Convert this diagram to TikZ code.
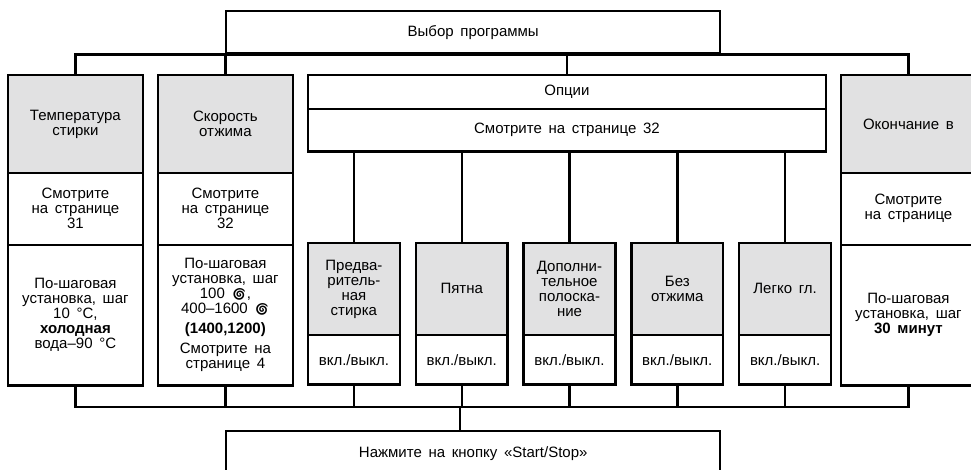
\documentclass[tikz,border=0pt]{standalone}
\usepackage{fontspec}
\setmainfont[WordSpace=1.6]{Liberation Sans}
\newfontfamily\spinfont{Noto Emoji}
\usetikzlibrary{positioning}
\definecolor{headgray}{RGB}{225,225,226}
\newcommand{\spin}{{\spinfont\fontsize{12}{12}\selectfont 🌀}}

\tikzset{
    cell/.style={draw, line width=0.8pt, anchor=north west, inner sep=0pt, align=center, font=\fontsize{15}{15}\selectfont},
    head/.style={cell, fill=headgray},
    frame/.style={line width=2.4pt},
    wire/.style={line width=2.4pt},
}

\begin{document}
\begin{tikzpicture}[x=1pt, y=-1pt]
                \clip (0,0) rectangle (971,469);

                \node[cell, frame, minimum width=494pt, minimum height=42pt] (prog) at (225,10) {Выбор программы};

                % temperature
                \node[head, minimum width=134pt, minimum height=97pt] (tempH) at (8,75) {Температура\\стирки};
                \node[cell, minimum width=134pt, minimum height=71pt, below=0pt of tempH] (tempM) {Смотрите\\на странице\\31};
                \node[cell, minimum width=134pt, minimum height=140pt, below=0pt of tempM] (tempF) {По-шаговая\\установка, шаг\\10 °C,\\\textbf{холодная}\\вода–90 °C};

                % spin speed
                \node[head, minimum width=134pt, minimum height=97pt] (speedH) at (158,75) {Скорость\\отжима};
                \node[cell, minimum width=134pt, minimum height=71pt, below=0pt of speedH] (speedM) {Смотрите\\на странице\\32};
                \node[cell, minimum width=134pt, minimum height=140pt, below=0pt of speedM] (speedF) {По-шаговая\\установка, шаг\\100 \spin,\\400–1600 \spin\\[5pt]\textbf{(1400,1200)}\\[5pt]Смотрите на\\странице 4};

                % options
                \node[cell, minimum width=517pt, minimum height=33pt] (optsH) at (308,75) {Опции};
                \node[cell, minimum width=517pt, minimum height=42pt, below=0pt of optsH] (optsF) {Смотрите на странице 32};

                \node[head, minimum width=91pt, minimum height=91pt] (o1H) at (308,243) {Предва-\\ритель-\\ная\\стирка};
                \node[head, minimum width=91pt, minimum height=91pt, right=16pt of o1H] (o2H) {Пятна};
                \node[head, minimum width=91pt, minimum height=91pt, right=16pt of o2H] (o3H) {Дополни-\\тельное\\полоска-\\ние};
                \node[head, minimum width=91pt, minimum height=91pt, right=16pt of o3H] (o4H) {Без\\отжима};
                \node[head, minimum width=91pt, minimum height=91pt, right=16pt of o4H] (o5H) {Легко гл.};
                \foreach \opt in {o1,o2,o3,o4,o5}
                    \node[cell, minimum width=91pt, minimum height=49pt, below=0pt of \opt H] (\opt F) {вкл./выкл.};

                % end time
                \node[head, minimum width=134pt, minimum height=97pt] (endH) at (841,75) {Окончание в};
                \node[cell, minimum width=134pt, minimum height=71pt, below=0pt of endH] (endM) {Смотрите\\на странице};
                \node[cell, minimum width=134pt, minimum height=140pt, below=0pt of endM] (endF) {По-шаговая\\установка, шаг\\\textbf{30 минут}};

                \node[cell, frame, minimum width=494pt, minimum height=44pt] (start) at (225,430) {Нажмите на кнопку «Start/Stop»};

                \draw[frame] (tempH.north west) rectangle (tempF.south east);
                \draw[frame] (speedH.north west) rectangle (speedF.south east);
                \draw[frame] (optsH.north west) rectangle (optsF.south east);
                \draw[frame] (endH.north west) rectangle (endF.south east);
                \foreach \opt in {o1,o2,o3,o4,o5}
                    \draw[frame] (\opt H.north west) rectangle (\opt F.south east);

                % connectors
                \draw[wire] (tempH.north) |- (prog.south) -| (endH.north);
                \draw[wire] (speedH.north) -- (speedH.north |- prog.south);
                \draw[wire] (optsH.north) -- (optsH.north |- prog.south);
                \foreach \opt in {o1,o2,o3,o4,o5}
                    \draw[wire] (\opt H.north) -- (\opt H.north |- optsF.south);

                \coordinate (bus) at (460,407);
                \draw[wire] (tempF.south) |- (bus) -| (endF.south);
                \draw[wire] (speedF.south) -- (speedF.south |- bus);
                \foreach \opt in {o1,o2,o3,o4,o5}
                    \draw[wire] (\opt F.south) -- (\opt F.south |- bus);
                \draw[wire] (bus) -- (bus |- start.north);
            \end{tikzpicture}
\end{document}
